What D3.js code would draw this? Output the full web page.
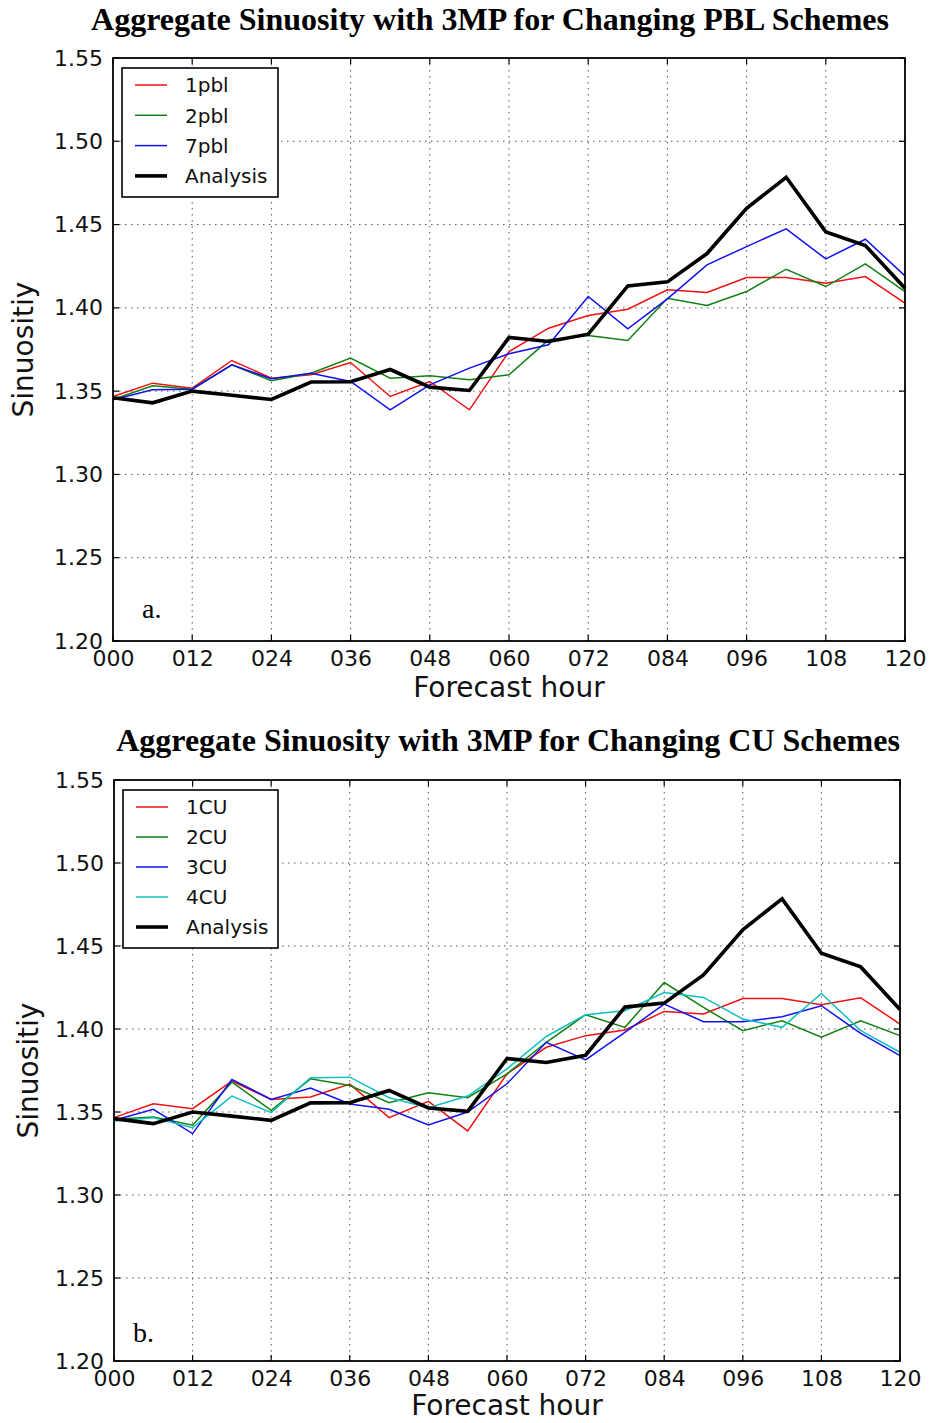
<!DOCTYPE html>
<html>
<head>
<meta charset="utf-8">
<script src="https://cdn.jsdelivr.net/npm/d3@7"></script>
<style>
  html, body { margin: 0; padding: 0; background: #fff; }
  svg { display: block; }
</style>
</head>
<body>
<svg id="fig" width="930" height="1423"></svg>
<script>
// Forecast hours (every 6 h) and the x tick labels
const hours = [0, 6, 12, 18, 24, 30, 36, 42, 48, 54, 60, 66, 72, 78, 84, 90, 96, 102, 108, 114, 120];
const hourTicks = [0, 12, 24, 36, 48, 60, 72, 84, 96, 108, 120];
const hourTickLabels = ["000", "012", "024", "036", "048", "060", "072", "084", "096", "108", "120"];
const sinTicks = [1.20, 1.25, 1.30, 1.35, 1.40, 1.45, 1.50, 1.55];

// Analysis sinuosity (shared by both panels)
const analysis = [1.346, 1.343, 1.350, 1.3475, 1.345, 1.3555, 1.3556, 1.363, 1.3524, 1.3504, 1.3822,
                  1.3798, 1.3842, 1.4132, 1.4156, 1.4326, 1.4598, 1.4784, 1.4456, 1.4374, 1.4118];

// Panel a: PBL schemes
const pbl1 = [1.3468, 1.3548, 1.3518, 1.3684, 1.3578, 1.3598, 1.3672, 1.3468, 1.3558, 1.3388, 1.3738,
              1.3878, 1.3954, 1.3992, 1.4108, 1.4092, 1.4182, 1.4182, 1.4148, 1.4188, 1.4028];
const pbl2 = [1.345, 1.3532, 1.3512, 1.3658, 1.3562, 1.3608, 1.3698, 1.3578, 1.3592, 1.3568, 1.3598,
              1.3808, 1.3834, 1.3804, 1.4058, 1.4014, 1.4098, 1.4232, 1.4128, 1.4264, 1.4098];
const pbl7 = [1.3448, 1.3508, 1.3512, 1.3658, 1.3574, 1.3608, 1.3558, 1.3388, 1.3538, 1.3638, 1.3724,
              1.3778, 1.4068, 1.3874, 1.4054, 1.4258, 1.4368, 1.4474, 1.4294, 1.4412, 1.4192];

// Panel b: CU schemes
const cu1 = [1.3466, 1.355, 1.352, 1.3686, 1.3576, 1.359, 1.3668, 1.3466, 1.3564, 1.3386, 1.373,
             1.389, 1.396, 1.3994, 1.4106, 1.409, 1.4184, 1.4184, 1.4146, 1.4188, 1.403];
const cu2 = [1.3456, 1.347, 1.342, 1.368, 1.351, 1.370, 1.366, 1.3556, 1.3616, 1.3586, 1.373,
             1.392, 1.4086, 1.401, 1.428, 1.413, 1.399, 1.405, 1.395, 1.405, 1.396];
const cu3 = [1.345, 1.3516, 1.337, 1.3696, 1.3576, 1.3644, 1.3548, 1.3516, 1.3422, 1.350, 1.367,
             1.392, 1.3814, 1.398, 1.415, 1.4044, 1.4044, 1.4074, 1.414, 1.3974, 1.384];
const cu4 = [1.3446, 1.3466, 1.3406, 1.3596, 1.3496, 1.3706, 1.371, 1.3586, 1.3526, 1.3596, 1.376,
             1.3955, 1.4086, 1.411, 1.422, 1.419, 1.406, 1.401, 1.4214, 1.399, 1.386];

const svg = d3.select("#fig");
svg.append("rect").attr("width", 930).attr("height", 1423).attr("fill", "#fff");

const SANS = "'DejaVu Sans', sans-serif";
const SERIF = "'Liberation Serif', 'Times New Roman', serif";

function panel(cfg) {
  const { left, right, top, bottom } = cfg.box;
  const x = d3.scaleLinear().domain([0, 120]).range([left, right]);
  const y = d3.scaleLinear().domain([1.20, 1.55]).range([bottom, top]);

  // title
  svg.append("text")
    .attr("x", cfg.titleX).attr("y", cfg.titleY)
    .attr("text-anchor", "middle")
    .style("font-family", SERIF).style("font-weight", "bold").style("font-size", "32px")
    .text(cfg.title);

  // dotted grid
  const grid = svg.append("g").attr("stroke", "#555").attr("stroke-width", 1)
    .attr("stroke-dasharray", "1.5,4.5");
  grid.selectAll("line.v").data(hourTicks.slice(1, -1)).join("line")
    .attr("x1", d => x(d)).attr("x2", d => x(d)).attr("y1", top).attr("y2", bottom);
  grid.selectAll("line.h").data(sinTicks.slice(1, -1)).join("line")
    .attr("x1", left).attr("x2", right).attr("y1", d => y(d)).attr("y2", d => y(d));

  // series
  const line = d3.line().x((d, i) => x(hours[i])).y(d => y(d));
  cfg.series.forEach(s => {
    svg.append("path").datum(s.values)
      .attr("fill", "none").attr("stroke", s.color)
      .attr("stroke-width", s.width).attr("stroke-linejoin", "miter")
      .attr("d", line);
  });

  // inward ticks on all four sides
  const ticks = svg.append("g").attr("stroke", "#000").attr("stroke-width", 1.2);
  hourTicks.forEach(h => {
    ticks.append("line").attr("x1", x(h)).attr("x2", x(h)).attr("y1", bottom).attr("y2", bottom - 6);
    ticks.append("line").attr("x1", x(h)).attr("x2", x(h)).attr("y1", top).attr("y2", top + 6);
  });
  sinTicks.forEach(v => {
    ticks.append("line").attr("x1", left).attr("x2", left + 6).attr("y1", y(v)).attr("y2", y(v));
    ticks.append("line").attr("x1", right).attr("x2", right - 6).attr("y1", y(v)).attr("y2", y(v));
  });

  // frame
  svg.append("rect").attr("x", left).attr("y", top)
    .attr("width", right - left).attr("height", bottom - top)
    .attr("fill", "none").attr("stroke", "#000").attr("stroke-width", 1.8);

  // tick labels via d3 axes
  const xAxis = d3.axisBottom(x).tickValues(hourTicks)
    .tickFormat((d, i) => hourTickLabels[i]).tickSize(0).tickPadding(9);
  const gx = svg.append("g").attr("transform", `translate(0,${bottom})`).call(xAxis);
  const yAxis = d3.axisLeft(y).tickValues(sinTicks).tickFormat(d3.format(".2f"))
    .tickSize(0).tickPadding(10);
  const gy = svg.append("g").attr("transform", `translate(${left},0)`).call(yAxis);
  [gx, gy].forEach(g => {
    g.select(".domain").remove();
    g.selectAll("text").style("font-family", SANS).style("font-size", "22px").attr("fill", "#111");
  });

  // axis titles
  svg.append("text")
    .attr("x", (left + right) / 2).attr("y", cfg.xLabelY)
    .attr("text-anchor", "middle")
    .style("font-family", SANS).style("font-size", "28px").attr("fill", "#111")
    .text("Forecast hour");
  svg.append("text")
    .attr("transform", `translate(${cfg.yLabelX},${(top + bottom) / 2}) rotate(-90)`)
    .attr("text-anchor", "middle")
    .style("font-family", SANS).style("font-size", "28px").attr("fill", "#111")
    .text("Sinuositiy");

  // panel letter
  svg.append("text")
    .attr("x", cfg.letterX).attr("y", cfg.letterY)
    .style("font-family", SERIF).style("font-size", "28px")
    .text(cfg.letter);

  // legend
  const lg = cfg.legend;
  const rows = cfg.series;
  svg.append("rect").attr("x", lg.x).attr("y", lg.y)
    .attr("width", lg.w).attr("height", lg.h)
    .attr("fill", "#fff").attr("stroke", "#000").attr("stroke-width", 1.6);
  rows.forEach((s, i) => {
    const cy = lg.firstY + i * lg.step;
    svg.append("line")
      .attr("x1", lg.x + 13).attr("x2", lg.x + 45).attr("y1", cy).attr("y2", cy)
      .attr("stroke", s.color).attr("stroke-width", s.width);
    svg.append("text")
      .attr("x", lg.x + 63).attr("y", cy).attr("dy", "0.36em")
      .style("font-family", SANS).style("font-size", "20px").attr("fill", "#111")
      .text(s.name);
  });
}

const RED = "#f01010", GREEN = "#108010", BLUE = "#1010f0", CYAN = "#10c0c0";

panel({
  title: "Aggregate Sinuosity with 3MP for Changing PBL Schemes",
  titleX: 490, titleY: 30,
  box: { left: 113, right: 905, top: 58, bottom: 641 },
  xLabelY: 697, yLabelX: 33,
  letter: "a.", letterX: 142, letterY: 618,
  legend: { x: 122, y: 68, w: 156, h: 129, firstY: 85, step: 30.3 },
  series: [
    { name: "1pbl", values: pbl1, color: RED, width: 1.5 },
    { name: "2pbl", values: pbl2, color: GREEN, width: 1.5 },
    { name: "7pbl", values: pbl7, color: BLUE, width: 1.5 },
    { name: "Analysis", values: analysis, color: "#000", width: 3.6 }
  ]
});

panel({
  title: "Aggregate Sinuosity with 3MP for Changing CU Schemes",
  titleX: 508, titleY: 751,
  box: { left: 114, right: 900, top: 780, bottom: 1361 },
  xLabelY: 1415, yLabelX: 38,
  letter: "b.", letterX: 133, letterY: 1342,
  legend: { x: 123, y: 790, w: 155, h: 158, firstY: 807, step: 30 },
  series: [
    { name: "1CU", values: cu1, color: RED, width: 1.5 },
    { name: "2CU", values: cu2, color: GREEN, width: 1.5 },
    { name: "3CU", values: cu3, color: BLUE, width: 1.5 },
    { name: "4CU", values: cu4, color: CYAN, width: 1.5 },
    { name: "Analysis", values: analysis, color: "#000", width: 3.6 }
  ]
});
</script>
</body>
</html>
